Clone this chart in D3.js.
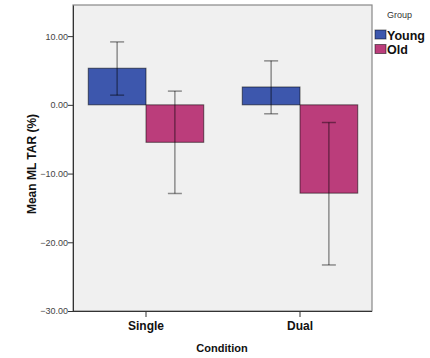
<!DOCTYPE html>
<html>
<head>
<meta charset="utf-8">
<script src="https://cdn.jsdelivr.net/npm/d3@7"></script>
<style>
  body { margin: 0; background: #fff; }
  svg { font-family: Arial, "Liberation Sans", sans-serif; }
</style>
</head>
<body>
<svg id="chart" width="430" height="358"></svg>
<script>
const conditions = ['Single', 'Dual']
const groups = ['Young', 'Old']
const youngMeans = [5.33, 2.6]
const youngLow = [1.41, -1.3]
const youngHigh = [9.16, 6.4]
const oldMeans = [-5.45, -12.85]
const oldLow = [-12.9, -23.3]
const oldHigh = [2.0, -2.57]
const yTicks = [10, 0, -10, -20, -30]
const colors = ['#3d57ad', '#bb3d7b']

const rows = []
conditions.forEach((c, i) => {
  rows.push({ condition: c, group: 'Young', mean: youngMeans[i], low: youngLow[i], high: youngHigh[i] })
  rows.push({ condition: c, group: 'Old', mean: oldMeans[i], low: oldLow[i], high: oldHigh[i] })
})

const svg = d3.select('#chart')
const plot = { left: 73, right: 372, top: 5, bottom: 311 }

const y = d3.scaleLinear().domain([-30, 14.53]).range([plot.bottom, plot.top])
const x = d3.scaleBand().domain(conditions).range([69, 377]).paddingInner(0.25).paddingOuter(0.125)
const xg = d3.scaleBand().domain(groups).range([0, x.bandwidth()])
const color = d3.scaleOrdinal().domain(groups).range(colors)

// plot background
svg.append('rect')
  .attr('x', plot.left).attr('y', plot.top)
  .attr('width', plot.right - plot.left).attr('height', plot.bottom - plot.top)
  .attr('fill', '#f0f0f0')

// bars
svg.append('g')
  .selectAll('rect')
  .data(rows)
  .join('rect')
  .attr('x', d => x(d.condition) + xg(d.group))
  .attr('width', xg.bandwidth())
  .attr('y', d => y(Math.max(0, d.mean)))
  .attr('height', d => Math.abs(y(d.mean) - y(0)))
  .attr('fill', d => color(d.group))
  .attr('stroke', 'rgba(0,0,0,0.55)')
  .attr('stroke-width', 1)

// error bars
const eb = svg.append('g')
  .attr('stroke', 'rgba(0,0,0,0.42)')
  .attr('stroke-width', 1.5)
  .selectAll('g')
  .data(rows)
  .join('g')
  .attr('transform', d => `translate(${x(d.condition) + xg(d.group) + xg.bandwidth() / 2},0)`)
eb.append('line').attr('y1', d => y(d.low)).attr('y2', d => y(d.high))
eb.append('line').attr('x1', -7).attr('x2', 7).attr('y1', d => y(d.high)).attr('y2', d => y(d.high))
eb.append('line').attr('x1', -7).attr('x2', 7).attr('y1', d => y(d.low)).attr('y2', d => y(d.low))

// frame
svg.append('rect')
  .attr('x', plot.left).attr('y', plot.top)
  .attr('width', plot.right - plot.left).attr('height', plot.bottom - plot.top)
  .attr('fill', 'none')
  .attr('stroke', '#888')
  .attr('stroke-width', 1.2)

// y axis
const yAxis = svg.append('g')
  .attr('transform', `translate(${plot.left},0)`)
  .call(d3.axisLeft(y).tickValues(yTicks).tickSize(5).tickSizeOuter(0).tickFormat(d3.format('.2f')))
yAxis.select('.domain').attr('stroke', '#333')
yAxis.selectAll('.tick line').attr('stroke', '#333')
yAxis.selectAll('.tick text')
  .attr('font-size', 9).attr('fill', '#444').attr('font-family', 'Arial, "Liberation Sans", sans-serif')
  .attr('x', -5)

// x axis
const xAxis = svg.append('g')
  .attr('transform', `translate(0,${plot.bottom})`)
  .call(d3.axisBottom(x).tickSize(6).tickSizeOuter(0))
xAxis.select('.domain').attr('d', `M${plot.left},0.5H${plot.right}`).attr('stroke', '#333')
xAxis.selectAll('.tick line').attr('stroke', '#333')
xAxis.selectAll('.tick text')
  .attr('font-size', 12).attr('font-weight', 'bold').attr('fill', '#111')
  .attr('font-family', 'Arial, "Liberation Sans", sans-serif')
  .attr('y', 10)

// axis titles
svg.append('text')
  .attr('x', 222).attr('y', 352)
  .attr('text-anchor', 'middle')
  .attr('font-size', 11).attr('font-weight', 'bold').attr('fill', '#111')
  .text('Condition')

svg.append('text')
  .attr('transform', 'translate(36,164) rotate(-90)')
  .attr('text-anchor', 'middle')
  .attr('font-size', 12).attr('font-weight', 'bold').attr('fill', '#111')
  .text('Mean ML TAR (%)')

// legend
const legend = svg.append('g')
legend.append('text')
  .attr('x', 387).attr('y', 18)
  .attr('font-size', 9).attr('fill', '#333')
  .text('Group')
const items = legend.selectAll('g.item')
  .data(groups)
  .join('g')
  .attr('class', 'item')
  .attr('transform', (d, i) => `translate(375,${30 + i * 14.5})`)
items.append('rect')
  .attr('width', 11).attr('height', 9)
  .attr('fill', d => color(d))
  .attr('stroke', 'rgba(0,0,0,0.5)')
items.append('text')
  .attr('x', 12).attr('y', 9.5)
  .attr('font-size', 12.5).attr('font-weight', 'bold').attr('fill', '#111')
  .text(d => d)
</script>
</body>
</html>
